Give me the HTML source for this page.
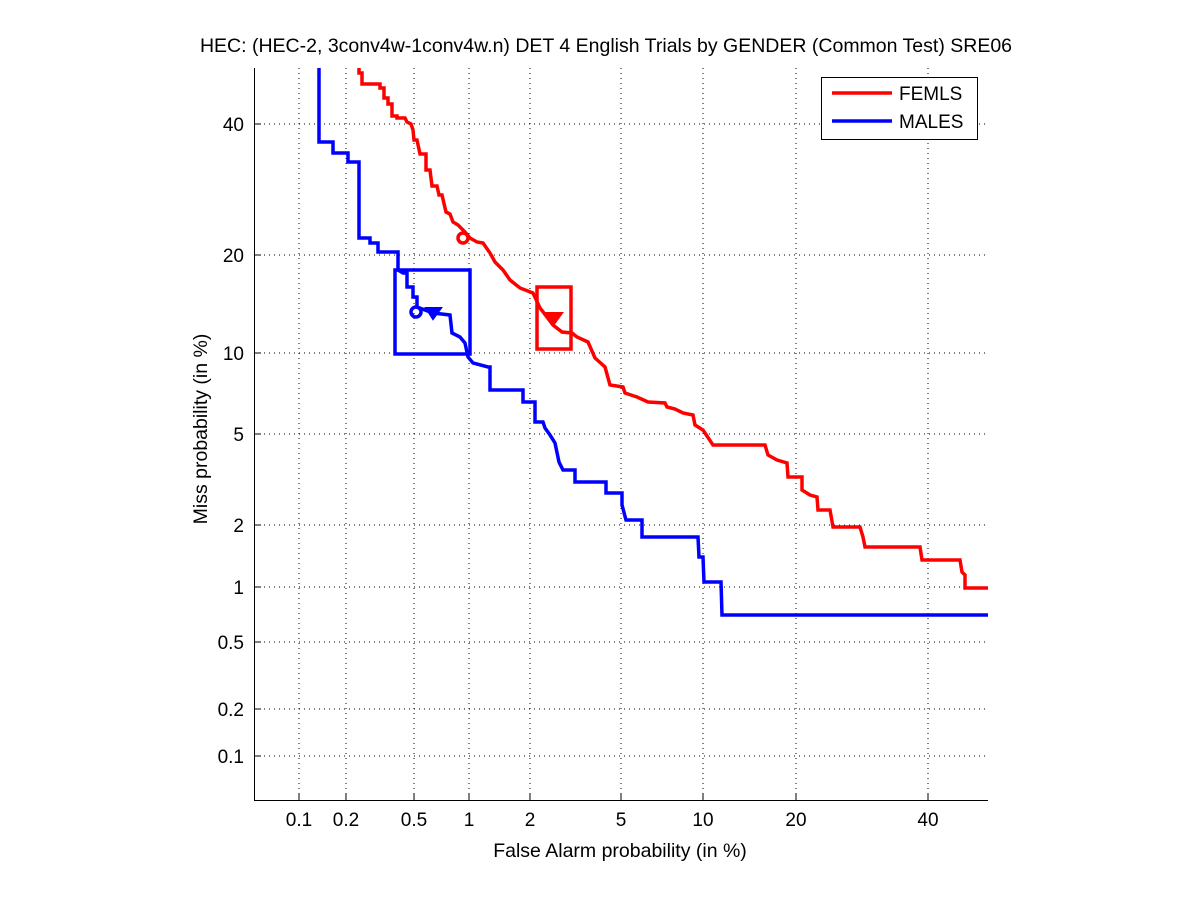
<!DOCTYPE html>
<html><head><meta charset="utf-8"><style>body{margin:0;background:#fff}svg{display:block}text{font-family:"Liberation Sans",sans-serif;fill:#000}</style></head><body>
<svg width="1201" height="900" viewBox="0 0 1201 900" xmlns="http://www.w3.org/2000/svg">
<rect width="1201" height="900" fill="#fff"/>
<g stroke="#000" stroke-width="1" stroke-dasharray="1,4" fill="none">
<line x1="299" y1="68" x2="299" y2="800"/><line x1="346" y1="68" x2="346" y2="800"/><line x1="414" y1="68" x2="414" y2="800"/><line x1="469" y1="68" x2="469" y2="800"/><line x1="530" y1="68" x2="530" y2="800"/><line x1="621" y1="68" x2="621" y2="800"/><line x1="703" y1="68" x2="703" y2="800"/><line x1="796" y1="68" x2="796" y2="800"/><line x1="928" y1="68" x2="928" y2="800"/>
<line x1="254" y1="124" x2="988" y2="124"/><line x1="254" y1="255" x2="988" y2="255"/><line x1="254" y1="353" x2="988" y2="353"/><line x1="254" y1="434" x2="988" y2="434"/><line x1="254" y1="525" x2="988" y2="525"/><line x1="254" y1="587" x2="988" y2="587"/><line x1="254" y1="642" x2="988" y2="642"/><line x1="254" y1="709" x2="988" y2="709"/><line x1="254" y1="756" x2="988" y2="756"/>
</g>
<g stroke="#000" stroke-width="1">
<line x1="254.5" y1="68" x2="254.5" y2="800"/><line x1="254" y1="800.5" x2="988" y2="800.5"/>
<line x1="254" y1="124" x2="261" y2="124"/><line x1="254" y1="255" x2="261" y2="255"/><line x1="254" y1="353" x2="261" y2="353"/><line x1="254" y1="434" x2="261" y2="434"/><line x1="254" y1="525" x2="261" y2="525"/><line x1="254" y1="587" x2="261" y2="587"/><line x1="254" y1="642" x2="261" y2="642"/><line x1="254" y1="709" x2="261" y2="709"/><line x1="254" y1="756" x2="261" y2="756"/>
<line x1="299" y1="800" x2="299" y2="793"/><line x1="346" y1="800" x2="346" y2="793"/><line x1="414" y1="800" x2="414" y2="793"/><line x1="469" y1="800" x2="469" y2="793"/><line x1="530" y1="800" x2="530" y2="793"/><line x1="621" y1="800" x2="621" y2="793"/><line x1="703" y1="800" x2="703" y2="793"/><line x1="796" y1="800" x2="796" y2="793"/><line x1="928" y1="800" x2="928" y2="793"/>
</g>
<g font-size="19" text-anchor="end">
<text x="244" y="131">40</text><text x="244" y="262">20</text><text x="244" y="360">10</text><text x="244" y="441">5</text><text x="244" y="532">2</text><text x="244" y="594">1</text><text x="244" y="649">0.5</text><text x="244" y="716">0.2</text><text x="244" y="763">0.1</text>
</g>
<g font-size="19" text-anchor="middle">
<text x="299" y="826">0.1</text><text x="346" y="826">0.2</text><text x="414" y="826">0.5</text><text x="469" y="826">1</text><text x="530" y="826">2</text><text x="621" y="826">5</text><text x="703" y="826">10</text><text x="796" y="826">20</text><text x="928" y="826">40</text>
</g>
<g font-size="19.5" text-anchor="middle">
<text x="606" y="52">HEC: (HEC-2, 3conv4w-1conv4w.n) DET 4 English Trials by GENDER (Common Test) SRE06</text>
<text x="620" y="857">False Alarm probability (in %)</text>
<text transform="translate(207,429) rotate(-90)">Miss probability (in %)</text>
</g>
<g fill="none" stroke-width="3.5" stroke-linejoin="miter">
<polyline stroke="#f00" points="359,68 359,73 362,73 362,84 367,84 380,84 380,88 384,88 384,98 388,98 388,104 392,104 392,116 397,116 397,118 405,118 407,122 411,124 413,130 414,140 417,140 420,154 426,154 426,170 430,170 432,186 437,186 439,195 442,195 446,212 450,214 453,222 458,225 465,232 470,238 477,242 483,243 490,253 495,262 503,270 510,280 520,288 533,293 540,308 547,317 553,325 562,332 572,333 577,337 588,342 595,358 605,367 610,385 623,387 625,393 637,397 648,402 665,403 667,407 675,409 683,413 693,415 695,425 703,430 713,445 765,445 768,455 777,460 787,463 788,477 802,477 802,490 810,495 817,497 818,510 830,510 833,527 860,527 863,537 865,547 920,547 922,560 960,560 962,572 965,575 965,588 988,588"/>
<polyline stroke="#00f" points="319,68 319,142 333,142 333,153 348,153 348,162 359,162 359,238 370,238 370,243 378,243 378,252 398,252 398,270 403,273 407,273 407,287 413,287 413,297 417,297 417,307 433,313 450,315 452,333 460,337 465,343 468,357 473,363 488,367 490,367 490,390 523,390 523,402 535,402 535,422 543,422 545,428 550,435 555,443 559,462 563,470 575,470 575,482 606,482 606,493 622,493 622,505 626,520 642,520 642,537 698,537 699,557 703,557 704,582 721,582 722,615 988,615"/>
<rect x="395" y="270" width="75" height="84" stroke="#00f"/>
<rect x="537" y="287" width="34" height="62" stroke="#f00"/>
<circle cx="416" cy="312" r="5" stroke="#00f"/>
<circle cx="463" cy="238" r="5" stroke="#f00"/>
</g>
<polygon points="426,308 441,308 433,319" fill="#00f" stroke="#00f" stroke-width="2"/>
<polygon points="547,313 562,313 554,324" fill="#f00" stroke="#f00" stroke-width="2"/>
<rect x="821.5" y="77.5" width="156" height="62" fill="#fff" stroke="#000"/>
<line x1="832" y1="93" x2="892" y2="93" stroke="#f00" stroke-width="3.5"/>
<line x1="832" y1="121" x2="892" y2="121" stroke="#00f" stroke-width="3.5"/>
<text x="899" y="100" font-size="19">FEMLS</text>
<text x="899" y="128" font-size="19">MALES</text>
</svg>
</body></html>
